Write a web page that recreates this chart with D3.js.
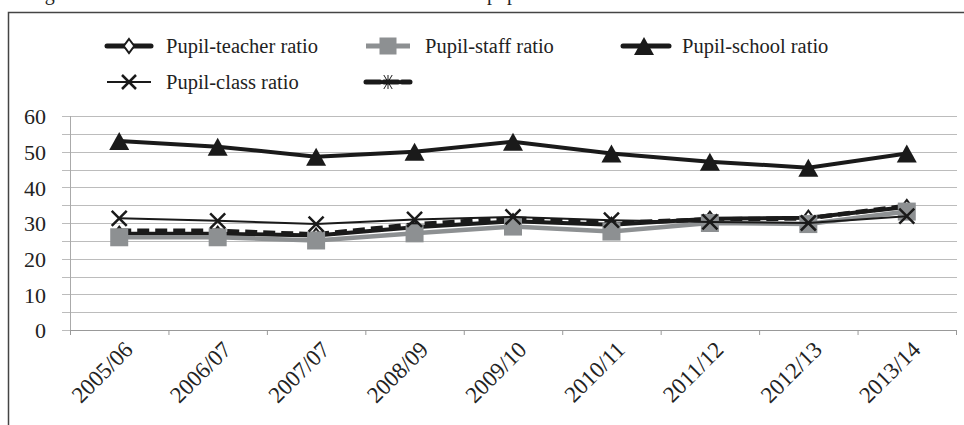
<!DOCTYPE html>
<html><head><meta charset="utf-8">
<script src="https://cdn.jsdelivr.net/npm/d3@7"></script>
<style>
html,body{margin:0;padding:0;background:#fff;overflow:hidden;}
</style></head><body>
<svg id="c" width="964" height="425"></svg>
<script>
const categories = ["2005/06","2006/07","2007/07","2008/09","2009/10","2010/11","2011/12","2012/13","2013/14"];
const teacherRatio = [27.0, 27.0, 26.5, 28.8, 30.5, 29.5, 31.2, 31.5, 34.5];
const staffRatio   = [26.0, 26.0, 25.1, 27.1, 29.0, 27.6, 30.0, 29.7, 33.2];
const schoolRatio  = [53.0, 51.4, 48.6, 50.0, 52.8, 49.5, 47.2, 45.5, 49.5];
const classRatio   = [31.3, 30.6, 29.7, 31.0, 31.7, 30.8, 30.3, 30.0, 31.9];
const unnamedRatio = [27.8, 27.8, 26.8, 29.6, 31.3, 30.0, 31.0, 31.3, 34.8];
const yTicks = [0,10,20,30,40,50,60];
const seriesNames = ["Pupil-teacher ratio","Pupil-staff ratio","Pupil-school ratio","Pupil-class ratio",""];

const FONT = "'Liberation Serif', 'DejaVu Serif', serif";
const svg = d3.select("#c");
const GRAY = "#8d9092";

// title (cut off at top, as in the source)
const title = svg.append("text").attr("y", 0).attr("font-size", 20).attr("fill", "#222").style("font-family", FONT);
title.append("tspan").attr("x", 28).text("Figure 4.2: Trends in selected ratios of");
title.append("tspan").attr("x", 487).text("pupils in schools");

// frame
svg.append("rect").attr("x", 8.5).attr("y", 12.5).attr("width", 1000).attr("height", 500)
  .attr("fill", "none").attr("stroke", "#444").attr("stroke-width", 1.5);

const x = d3.scaleBand().domain(categories).range([70, 956]);
const y = d3.scaleLinear().domain([0, 60]).range([330, 116]);
const cx = d => x(d) + x.bandwidth() / 2;

// gridlines every 5
const grid = d3.range(0, 61, 5);
svg.append("g").selectAll("line").data(grid).join("line")
  .attr("x1", 62).attr("x2", 957)
  .attr("y1", d => Math.round(y(d)) + 0.5).attr("y2", d => Math.round(y(d)) + 0.5)
  .attr("stroke", "#bcbcbc").attr("stroke-width", 1.2);

// y axis line
svg.append("line").attr("x1", 70.5).attr("x2", 70.5).attr("y1", y(60)).attr("y2", y(0))
  .attr("stroke", "#aaa").attr("stroke-width", 1);

// y axis labels
const yAxis = d3.axisLeft(y).tickValues(yTicks).tickSize(0).tickPadding(0);
const yg = svg.append("g").attr("transform", "translate(46,0)").call(yAxis).attr("font-family", null);
yg.select(".domain").remove();
yg.selectAll("text").attr("font-size", 22).attr("fill", "#222").attr("dy", "0.35em").style("font-family", FONT);

// x axis
const xAxis = d3.axisBottom(x).tickSize(0).tickFormat(d => d);
const xg = svg.append("g").attr("transform", "translate(0,330)").call(xAxis).attr("font-family", null);
xg.select(".domain").attr("stroke", "#999");
xg.selectAll(".tick line").remove();
xg.selectAll(".tick text")
  .attr("font-size", 23).attr("fill", "#222").style("font-family", FONT)
  .attr("text-anchor", "end").attr("dy", 0).attr("y", 0)
  .attr("transform", "translate(15,21) rotate(-45)");
// boundary ticks
const bounds = categories.map(d => x(d)).concat([x.range()[1]]);
svg.append("g").selectAll("line").data(bounds).join("line")
  .attr("x1", d => d + 0.5).attr("x2", d => d + 0.5).attr("y1", 330).attr("y2", 335)
  .attr("stroke", "#999");

const line = d3.line().x((d, i) => cx(categories[i])).y(d => y(d));

// marker shapes
function diamond(g, s) { return g.append("path").attr("d", `M0,${-s}L${s*0.75},0L0,${s}L${-s*0.75},0Z`); }
function square(g, s) { return g.append("rect").attr("x", -s/2).attr("y", -s/2).attr("width", s).attr("height", s); }
function triangle(g, w, h) { return g.append("path").attr("d", `M0,${-h/2}L${w/2},${h/2}L${-w/2},${h/2}Z`); }
function cross(g, s) { return g.append("path").attr("d", `M${-s},${-s}L${s},${s}M${s},${-s}L${-s},${s}`); }
function star(g, s) { return g.append("path").attr("d", `M${-s*0.6},${-s}L${s*0.6},${s}M${s*0.6},${-s}L${-s*0.6},${s}M0,${-s}L0,${s}`); }

const plot = svg.append("g");

// teacher
plot.append("path").datum(teacherRatio).attr("d", line).attr("fill", "none").attr("stroke", "#1a1a1a").attr("stroke-width", 4);
teacherRatio.forEach((v, i) => {
  const g = plot.append("g").attr("transform", `translate(${cx(categories[i])},${y(v)})`);
  diamond(g, 7).attr("fill", "#fff").attr("stroke", "#1a1a1a").attr("stroke-width", 2);
});
// unnamed dashed
plot.append("path").datum(unnamedRatio).attr("d", line).attr("fill", "none").attr("stroke", "#1a1a1a").attr("stroke-width", 4.5).attr("stroke-dasharray", "12,6");
// staff
plot.append("path").datum(staffRatio).attr("d", line).attr("fill", "none").attr("stroke", GRAY).attr("stroke-width", 4.5);
staffRatio.forEach((v, i) => {
  const g = plot.append("g").attr("transform", `translate(${cx(categories[i])},${y(v)})`);
  square(g, 18).attr("fill", GRAY);
});
// school
plot.append("path").datum(schoolRatio).attr("d", line).attr("fill", "none").attr("stroke", "#1a1a1a").attr("stroke-width", 4);
schoolRatio.forEach((v, i) => {
  const g = plot.append("g").attr("transform", `translate(${cx(categories[i])},${y(v)})`);
  triangle(g, 20, 18).attr("fill", "#1a1a1a");
});
// class
plot.append("path").datum(classRatio).attr("d", line).attr("fill", "none").attr("stroke", "#1a1a1a").attr("stroke-width", 2);
classRatio.forEach((v, i) => {
  const g = plot.append("g").attr("transform", `translate(${cx(categories[i])},${y(v)})`);
  cross(g, 7.5).attr("stroke", "#1a1a1a").attr("stroke-width", 2.5).attr("fill", "none");
});

// legend
const legend = [
  {name: seriesNames[0], x: 107, y: 46, draw: g => { g.append("line").attr("x1",0).attr("x2",44).attr("stroke","#1a1a1a").attr("stroke-width",5).attr("stroke-linecap","round"); diamond(g.append("g").attr("transform","translate(22,0)"),7).attr("fill","#fff").attr("stroke","#1a1a1a").attr("stroke-width",2); }},
  {name: seriesNames[1], x: 366, y: 46, draw: g => { g.append("line").attr("x1",0).attr("x2",44).attr("stroke",GRAY).attr("stroke-width",5); square(g.append("g").attr("transform","translate(22,0)"),17).attr("fill",GRAY); }},
  {name: seriesNames[2], x: 623, y: 46, draw: g => { g.append("line").attr("x1",0).attr("x2",46).attr("stroke","#1a1a1a").attr("stroke-width",5).attr("stroke-linecap","round"); triangle(g.append("g").attr("transform","translate(21,0)"),20,18).attr("fill","#1a1a1a"); }},
  {name: seriesNames[3], x: 107, y: 82, draw: g => { g.append("line").attr("x1",0).attr("x2",44).attr("stroke","#1a1a1a").attr("stroke-width",2); cross(g.append("g").attr("transform","translate(22,0)"),7).attr("stroke","#1a1a1a").attr("stroke-width",2.5); }},
  {name: seriesNames[4], x: 366, y: 82, draw: g => { g.append("line").attr("x1",0).attr("x2",44).attr("stroke","#1a1a1a").attr("stroke-width",5).attr("stroke-dasharray","14,4").attr("stroke-linecap","round"); star(g.append("g").attr("transform","translate(22,0)"),7).attr("stroke","#1a1a1a").attr("stroke-width",1); }}
];
legend.forEach(l => {
  const g = svg.append("g").attr("transform", `translate(${l.x},${l.y})`);
  l.draw(g);
  if (l.name) g.append("text").attr("x", 59).attr("dy", "0.35em").attr("font-size", 20.5).attr("fill", "#222").style("font-family", FONT).text(l.name);
});
</script></body></html>
